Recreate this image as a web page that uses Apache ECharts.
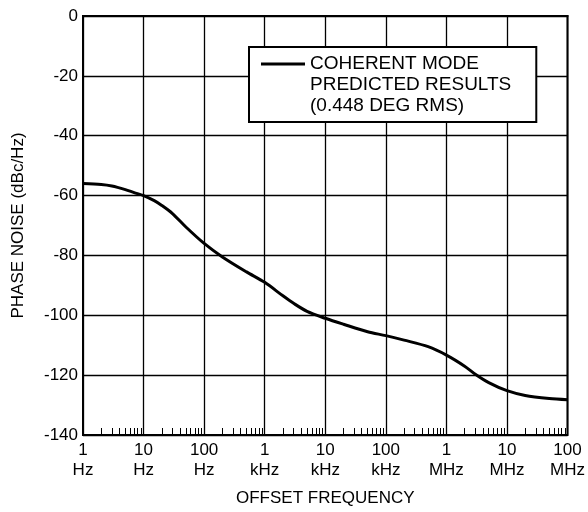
<!DOCTYPE html>
<html style="height: 100%">
<head>
    <meta charset="utf-8">
</head>
<body style="height: 100%; margin: 0; background: #fff">
    <div id="container" style="width: 588px; height: 512px"></div>

    <script type="text/javascript" src="https://cdn.jsdelivr.net/npm/echarts@6.0.0/dist/echarts.min.js"></script>
    <script type="text/javascript">
        // offset frequency (Hz) and predicted phase noise (dBc/Hz)
        var freqHz = [1, 2, 3, 5, 7, 10, 15, 20, 30, 50, 100, 200, 500,
                      1e3, 2e3, 3e3, 5e3, 1e4, 2e4, 5e4, 1e5, 2e5, 5e5,
                      1e6, 2e6, 3e6, 5e6, 1e7, 2e7, 5e7, 1e8];
        var noiseDbc = [-56, -56.3, -56.8, -58, -59, -60, -61.7, -63.3, -66, -70.5, -76, -80.5, -85.5,
                        -89, -93.5, -96, -98.7, -101, -103, -105.5, -106.8, -108.3, -110.5,
                        -113.3, -117, -119.7, -122.5, -125.2, -126.8, -127.8, -128.2];
        var xTickLabels = ['1\nHz', '10\nHz', '100\nHz', '1\nkHz', '10\nkHz', '100\nkHz', '1\nMHz', '10\nMHz', '100\nMHz'];
        var seriesName = 'COHERENT MODE\nPREDICTED RESULTS\n(0.448 DEG RMS)';

        var font = 'Liberation Sans';

        // minor ticks at 2..9 of each decade
        var minorTicks = [];
        for (var d = 0; d < 8; d++) {
            for (var m = 2; m <= 9; m++) minorTicks.push(m * Math.pow(10, d));
        }

        var myChart = echarts.init(document.getElementById('container'));
        var option = {
            backgroundColor: '#fff',
            animation: false,
            textStyle: { fontFamily: font, color: '#000' },
            grid: {
                left: 83, top: 16, right: 18, bottom: 77,
                show: true, borderColor: '#000', borderWidth: 2
            },
            legend: {
                left: 249, top: 47,
                padding: [6, 25, 6, 12],
                borderColor: '#000', borderWidth: 2,
                backgroundColor: '#fff',
                selectedMode: false,
                itemWidth: 44, itemHeight: 60,
                icon: 'path://M0,8L44,8L44,11L0,11Z M0,0 M0,60',
                textStyle: { fontFamily: font, fontSize: 19, lineHeight: 21, color: '#000' },
                data: [seriesName]
            },
            xAxis: [{
                type: 'log', logBase: 10, min: 1, max: 1e8, splitNumber: 8,
                name: 'OFFSET FREQUENCY', nameLocation: 'middle', nameGap: 55,
                nameTextStyle: { fontSize: 17, color: '#000' },
                axisLine: { lineStyle: { color: '#000', width: 2 } },
                axisTick: { show: false },
                axisLabel: {
                    fontSize: 17, lineHeight: 20, color: '#000', margin: 5,
                    formatter: function (v) { return xTickLabels[Math.round(Math.log10(v))]; }
                },
                splitLine: { show: true, lineStyle: { color: '#000', width: 1.3 } },
                minorSplitLine: { show: false }
            }, {
                type: 'log', logBase: 10, min: 1, max: 1e8, position: 'bottom',
                axisLine: { show: false },
                axisLabel: { show: false },
                splitLine: { show: false },
                axisTick: {
                    show: true, inside: true, length: 7,
                    customValues: minorTicks,
                    lineStyle: { color: '#000', width: 1 }
                }
            }],
            yAxis: {
                type: 'value', min: -140, max: 0, interval: 20,
                name: 'PHASE NOISE (dBc/Hz)', nameLocation: 'middle', nameGap: 56,
                nameTextStyle: { fontSize: 17, color: '#000' },
                axisLine: { lineStyle: { color: '#000', width: 2 } },
                axisTick: { show: false },
                axisLabel: { fontSize: 17, color: '#000', margin: 5 },
                splitLine: { show: true, lineStyle: { color: '#000', width: 1.3 } }
            },
            series: [{
                name: seriesName,
                type: 'line',
                xAxisIndex: 0,
                smooth: 0.3,
                symbol: 'none',
                lineStyle: { color: '#000', width: 3 },
                itemStyle: { color: '#000' },
                data: freqHz.map(function (f, i) { return [f, noiseDbc[i]]; })
            }]
        };
        myChart.setOption(option);
    </script>
</body>
</html>
